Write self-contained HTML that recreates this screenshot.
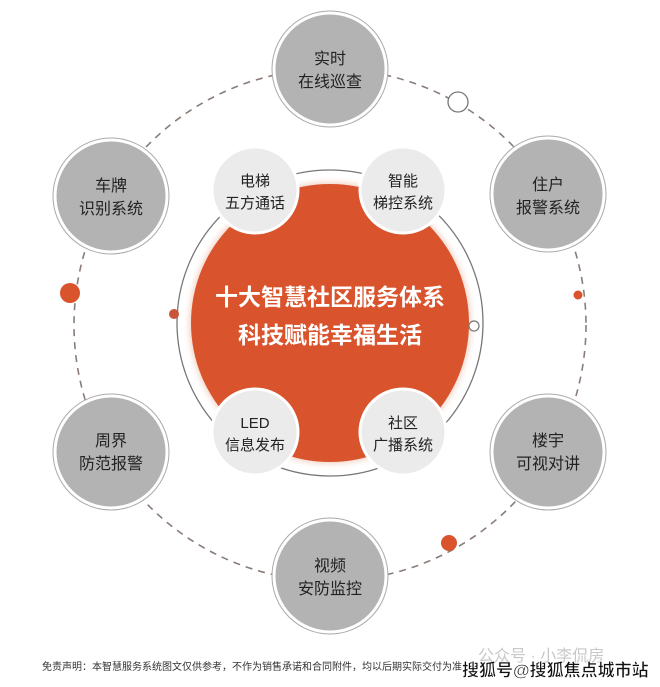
<!DOCTYPE html>
<html><head><meta charset="utf-8"><style>
html,body{margin:0;padding:0;background:#fff;}
body{width:660px;height:687px;position:relative;overflow:hidden;font-family:"Liberation Sans","Noto Sans CJK SC",sans-serif;}
svg{position:absolute;left:0;top:0;}
.t{font-family:"Liberation Sans","Noto Sans CJK SC",sans-serif;text-anchor:middle;}
</style></head><body>
<svg width="660" height="687" viewBox="0 0 660 687">
<defs>
<filter id="sh" x="-30%" y="-30%" width="160%" height="160%"><feGaussianBlur stdDeviation="3"/></filter>
</defs>
<circle cx="330" cy="325" r="256" fill="none" stroke="#8a7d78" stroke-width="1.6" stroke-dasharray="7 6"/>
<circle cx="330" cy="323" r="153" fill="none" stroke="#777" stroke-width="1.3"/>
<circle cx="330" cy="323" r="141" fill="#f3d5c8" filter="url(#sh)"/>
<circle cx="330" cy="323" r="139" fill="#d9532c"/>
<text class="t" x="330" y="305" font-size="23" font-weight="bold" fill="#fff">十大智慧社区服务体系</text>
<text class="t" x="330" y="343" font-size="23" font-weight="bold" fill="#fff">科技赋能幸福生活</text>
<g fill="#ebebeb" stroke="#fff" stroke-width="3">
<circle cx="255" cy="190" r="43"/><circle cx="403" cy="190" r="43"/>
<circle cx="255" cy="432" r="43"/><circle cx="403" cy="432" r="43"/>
</g>
<g class="t" font-size="15" fill="#222">
<text class="t" x="255" y="186">电梯</text><text class="t" x="255" y="208">五方通话</text>
<text class="t" x="403" y="186">智能</text><text class="t" x="403" y="208">梯控系统</text>
<text class="t" x="255" y="428">LED</text><text class="t" x="255" y="450">信息发布</text>
<text class="t" x="403" y="428">社区</text><text class="t" x="403" y="450">广播系统</text>
</g>
<g fill="#b3b3b3" stroke="#fff" stroke-width="3">
<circle cx="330" cy="69" r="56"/><circle cx="548" cy="194" r="56"/><circle cx="548" cy="452" r="56"/>
<circle cx="330" cy="576" r="56"/><circle cx="111" cy="452" r="56"/><circle cx="111" cy="196" r="56"/>
</g>
<g fill="none" stroke="#aaa" stroke-width="1">
<circle cx="330" cy="69" r="58"/><circle cx="548" cy="194" r="58"/><circle cx="548" cy="452" r="58"/>
<circle cx="330" cy="576" r="58"/><circle cx="111" cy="452" r="58"/><circle cx="111" cy="196" r="58"/>
</g>
<g font-size="16" fill="#222">
<text class="t" x="330" y="64">实时</text><text class="t" x="330" y="87">在线巡查</text>
<text class="t" x="548" y="190">住户</text><text class="t" x="548" y="213">报警系统</text>
<text class="t" x="548" y="446">楼宇</text><text class="t" x="548" y="469">可视对讲</text>
<text class="t" x="330" y="571">视频</text><text class="t" x="330" y="594">安防监控</text>
<text class="t" x="111" y="446">周界</text><text class="t" x="111" y="469">防范报警</text>
<text class="t" x="111" y="191">车牌</text><text class="t" x="111" y="214">识别系统</text>
</g>
<circle cx="70" cy="293" r="10" fill="#d9532c"/>
<circle cx="174" cy="314" r="5" fill="#c9553a"/>
<circle cx="458" cy="102" r="10" fill="#fff" stroke="#777" stroke-width="1.3"/>
<circle cx="578" cy="295" r="4.5" fill="#d9532c"/>
<circle cx="474" cy="326" r="5" fill="#fff" stroke="#777" stroke-width="1.2"/>
<circle cx="449" cy="543" r="8" fill="#d9532c"/>
<text x="42" y="670" font-size="10" fill="#333" font-family="Liberation Sans,Noto Sans CJK SC,sans-serif">免责声明：本智慧服务系统图文仅供参考，不作为销售承诺和合同附件，均以后期实际交付为准</text>
<text x="478" y="661" font-size="16" fill="#c8c8c8" font-family="Liberation Sans,Noto Sans CJK SC,sans-serif">公众号 · 小李侃房</text>
<text x="462" y="676" font-size="17" font-weight="bold" fill="#111" stroke="#fff" stroke-width="0.5" font-family="Liberation Sans,Noto Sans CJK SC,sans-serif">搜狐号@搜狐焦点城市站</text>
</svg>
</body></html>
